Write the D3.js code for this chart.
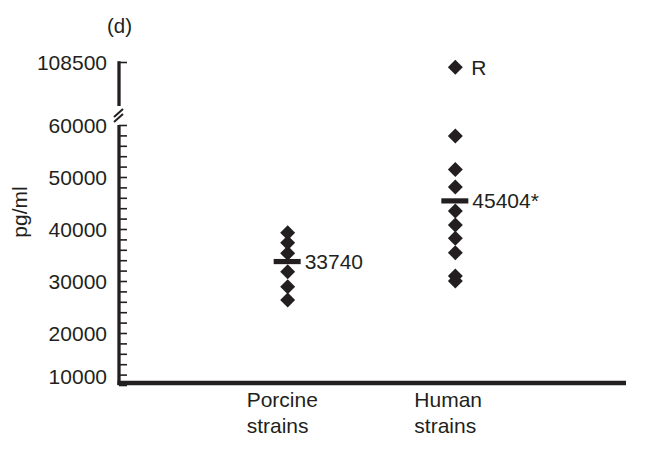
<!DOCTYPE html>
<html><head><meta charset="utf-8">
<script src="https://cdn.jsdelivr.net/npm/d3@7/dist/d3.min.js"></script>
<style>
html,body{margin:0;padding:0;background:#fff;}
text{font-family:"Liberation Sans",Arial,Helvetica,sans-serif;fill:#231f20;}
</style></head>
<body><svg id="chart" width="648" height="470"></svg>
<script>
// ---- data ----
const categories = ["Porcine", "Human"];
const categoryLabels = [["Porcine", "strains"], ["Human", "strains"]];
const porcineValues = [39290, 37370, 35330, 31790, 28900, 26350];
const humanValues = [57880, 51440, 48080, 43460, 40770, 38210, 35440, 30960, 30000];
const humanOutlier = [107500];
const outlierLabel = "R";
const means = [33740, 45404];
const meanLabels = ["33740", "45404*"];
const lowerTicks = [10000, 20000, 30000, 40000, 50000, 60000];
const upperTicks = [108500];
const panelLabel = "(d)";
const yTitle = "pg/ml";

const ink = "#231f20";
const svg = d3.select("#chart");

const x = d3.scalePoint().domain(categories).range([120, 623]).padding(1);
const y = d3.scaleLinear().domain([10000, 60000]).range([385, 125]);
const yUp = d3.scaleLinear().domain([100000, 108500]).range([106, 62]);

// lower y axis
const lowerAxis = d3.axisRight(y).tickValues(d3.range(10000, 60001, 2000)).tickSize(8).tickFormat("");
const gL = svg.append("g").attr("transform", "translate(119,0)").call(lowerAxis);
gL.select(".domain").remove();
gL.selectAll(".tick line").attr("stroke", ink).attr("stroke-width", 1.6);
svg.append("line").attr("x1", 119).attr("x2", 119).attr("y1", y(60000)).attr("y2", y(10000))
  .attr("stroke", ink).attr("stroke-width", 3.3);

// upper y axis
const upperAxis = d3.axisRight(yUp).tickValues(upperTicks).tickSize(8).tickFormat("");
const gU = svg.append("g").attr("transform", "translate(119,0)").call(upperAxis);
gU.select(".domain").remove();
gU.selectAll(".tick line").attr("stroke", ink).attr("stroke-width", 1.6);
svg.append("line").attr("x1", 119).attr("x2", 119).attr("y1", yUp(108500) - 0.8).attr("y2", yUp(100000))
  .attr("stroke", ink).attr("stroke-width", 3.3);

// break marks
const bm = (y(60000) + yUp(100000)) / 2;
[-2.5, 2.5].forEach(o => {
  svg.append("line").attr("x1", 114).attr("y1", bm + 4 + o).attr("x2", 123).attr("y2", bm - 4 + o)
    .attr("stroke", ink).attr("stroke-width", 2);
});

// tick labels
svg.selectAll("text.yl").data(lowerTicks).join("text").attr("class", "yl")
  .attr("x", 107).attr("y", d => y(d) - (d === 10000 ? 9 : 0)).attr("dy", "0.36em")
  .attr("text-anchor", "end").attr("font-size", 21).text(d => d);
svg.selectAll("text.yu").data(upperTicks).join("text").attr("class", "yu")
  .attr("x", 107).attr("y", d => yUp(d)).attr("dy", "0.36em")
  .attr("text-anchor", "end").attr("font-size", 21).text(d => d);

// x axis
svg.append("line").attr("x1", 117.5).attr("x2", 626).attr("y1", y(10000) - 2).attr("y2", y(10000) - 2)
  .attr("stroke", ink).attr("stroke-width", 4.6);

// category labels
categoryLabels.forEach((lines, i) => {
  const t = svg.append("text").attr("x", x(categories[i]) - 41).attr("y", y(10000) + 22)
    .attr("font-size", 21);
  lines.forEach((l, j) => t.append("tspan").attr("x", x(categories[i]) - 41).attr("dy", j ? 26 : 0).text(l));
});

// diamonds
const diamond = d3.symbol(d3.symbolSquare, 112);
const pts = porcineValues.map(v => ({c: "Porcine", v, s: y}))
  .concat(humanValues.map(v => ({c: "Human", v, s: y})))
  .concat(humanOutlier.map(v => ({c: "Human", v, s: yUp})));
svg.selectAll("path.pt").data(pts).join("path").attr("class", "pt")
  .attr("d", diamond)
  .attr("transform", d => `translate(${x(d.c)},${d.s(d.v)}) rotate(45)`)
  .attr("fill", ink);

// mean bars
svg.selectAll("rect.mean").data(means).join("rect").attr("class", "mean")
  .attr("x", (d, i) => x(categories[i]) - 14).attr("width", 27)
  .attr("y", d => y(d) - 2.6).attr("height", 5.2).attr("fill", ink);
svg.selectAll("text.ml").data(means).join("text").attr("class", "ml")
  .attr("x", (d, i) => x(categories[i]) + 17).attr("y", d => y(d)).attr("dy", "0.36em")
  .attr("font-size", 21).text((d, i) => meanLabels[i]);

// outlier label
svg.append("text").attr("x", x("Human") + 16).attr("y", yUp(humanOutlier[0])).attr("dy", "0.36em")
  .attr("font-size", 21).text(outlierLabel);

// panel label and y title
svg.append("text").attr("x", 107).attr("y", 33).attr("font-size", 20.5).text(panelLabel);
svg.append("text").attr("transform", `translate(27,${(y(60000) + y(10000)) / 2 - 43}) rotate(-90)`)
  .attr("text-anchor", "middle").attr("font-size", 21).text(yTitle);
</script></body></html>
